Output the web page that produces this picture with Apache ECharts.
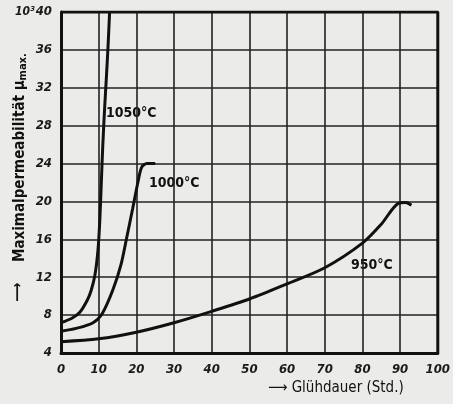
<!DOCTYPE html>
<html>
<head>
<meta charset="utf-8">
<script src="https://cdn.jsdelivr.net/npm/echarts@6/dist/echarts.min.js"></script>
<style>
  html, body { margin: 0; padding: 0; background: #ebebe9; }
  #chart { width: 453px; height: 404px; }
</style>
</head>
<body>
<div id="chart"></div>
<script>
// Glühdauer (Std.) vs. Maximalpermeabilität (x10^3)
var curve1050 = [[0, 7.2], [3, 7.7], [5, 8.3], [7, 9.6], [8, 10.6], [9, 12.2], [9.8, 14.8],
                 [10.3, 18], [10.7, 22], [11.1, 26], [11.6, 30], [12.1, 33.5], [12.5, 36.5], [12.9, 40]];
var curve1000 = [[0, 6.3], [4, 6.6], [8.5, 7.2], [11, 8.2], [13.8, 10.7], [15.9, 13.3],
                 [17.5, 16.3], [19, 19.2], [20.4, 22], [21.4, 23.6], [22.8, 24], [25, 24]];
var curve950 = [[0, 5.2], [10, 5.5], [20, 6.2], [30, 7.2], [40, 8.4], [50, 9.7], [60, 11.3],
                [70, 13], [80, 15.6], [85, 17.6], [89.5, 19.8], [91.5, 19.9], [93, 19.6]];

var curveNames = ['1050°C', '1000°C', '950°C'];
var xTicks = [0, 10, 20, 30, 40, 50, 60, 70, 80, 90, 100];
var yTicks = [4, 8, 12, 16, 20, 24, 28, 32, 36, 40];

var tickFont = {
    fontFamily: 'DejaVu Sans Condensed',
    fontStyle: 'italic',
    fontWeight: 'bold',
    fontSize: 13,
    color: '#1a1a1a'
};

function lineSeries(name, data) {
    return {
        name: name,
        type: 'line',
        data: data,
        smooth: 0.3,
        symbol: 'none',
        lineStyle: { color: '#111', width: 3 }
    };
}

var chart = echarts.init(document.getElementById('chart'));

chart.setOption({
    backgroundColor: '#ebebe9',
    animation: false,
    grid: { left: 61, right: 12, top: 12, bottom: 51 },
    xAxis: {
        type: 'value',
        min: 0,
        max: 100,
        interval: 10,
        axisLine: { show: true, onZero: false, lineStyle: { color: '#111', width: 3 } },
        axisTick: { show: false },
        splitLine: { show: true, lineStyle: { color: '#222', width: 1.6 } },
        axisLabel: Object.assign({ margin: 10, formatter: function (v) {
            return xTicks.indexOf(v) >= 0 ? String(v) : '';
        } }, tickFont)
    },
    yAxis: {
        type: 'value',
        min: 4,
        max: 40,
        interval: 4,
        axisLine: { show: true, onZero: false, lineStyle: { color: '#111', width: 3 } },
        axisTick: { show: false },
        splitLine: { show: true, lineStyle: { color: '#222', width: 1.6 } },
        axisLabel: Object.assign({
            margin: 9,
            formatter: function (v) {
                if (yTicks.indexOf(v) < 0) return '';
                return v === 40 ? '{e|10³}40' : String(v);
            },
            rich: {
                e: { fontFamily: 'DejaVu Sans Condensed', fontStyle: 'italic', fontWeight: 'bold',
                     fontSize: 12, color: '#1a1a1a', padding: [0, 1, 1, 0] }
            }
        }, tickFont)
    },
    series: [
        lineSeries(curveNames[0], curve1050),
        lineSeries(curveNames[1], curve1000),
        lineSeries(curveNames[2], curve950),
        // top and right frame
        {
            type: 'line',
            data: [[0, 40], [100, 40], [100, 4]],
            symbol: 'none',
            silent: true,
            lineStyle: { color: '#111', width: 3 }
        }
    ],
    graphic: [
        {
            type: 'text', left: 105, top: 105,
            style: { text: curveNames[0], font: 'bold 14px "DejaVu Sans Condensed"', fill: '#111',
                     backgroundColor: '#ebebe9', padding: [1, 1] }
        },
        {
            type: 'text', left: 148, top: 175,
            style: { text: curveNames[1], font: 'bold 14px "DejaVu Sans Condensed"', fill: '#111',
                     backgroundColor: '#ebebe9', padding: [1, 1] }
        },
        {
            type: 'text', left: 350, top: 257,
            style: { text: curveNames[2], font: 'bold 14px "DejaVu Sans Condensed"', fill: '#111',
                     backgroundColor: '#ebebe9', padding: [1, 1] }
        },
        {
            type: 'text', left: 268, top: 381,
            style: { text: '⟶ Glühdauer (Std.)', font: '15px "DejaVu Sans Condensed"', fill: '#111' }
        },
        {
            type: 'text', x: 11, y: 302, rotation: Math.PI / 2,
            style: { text: '⟶', font: 'bold 15px "DejaVu Sans Condensed"', fill: '#111' }
        },
        {
            type: 'text', x: 11, y: 262, rotation: Math.PI / 2,
            style: {
                text: 'Maximalpermeabilität μ{s|max.}',
                font: 'bold 15px "DejaVu Sans Condensed"',
                fill: '#111',
                rich: { s: { font: 'bold 11px "DejaVu Sans Condensed"', fill: '#111', padding: [7, 0, 0, 0] } }
            }
        }
    ]
});
</script>
</body>
</html>
